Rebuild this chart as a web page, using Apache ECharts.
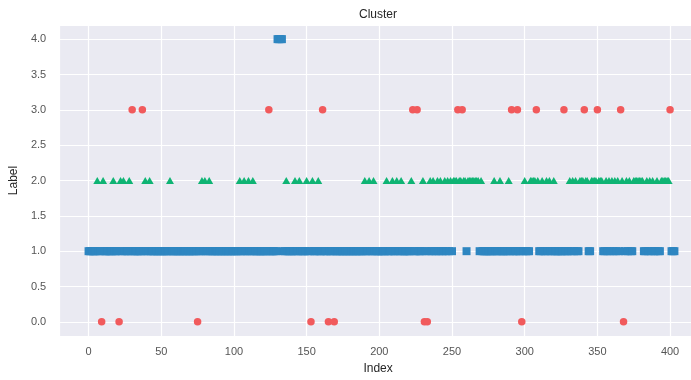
<!DOCTYPE html>
<html>
<head>
<meta charset="utf-8">
<script src="https://cdn.jsdelivr.net/npm/echarts@6/dist/echarts.min.js"></script>
<style>
  html, body { margin: 0; padding: 0; background: #ffffff; }
  #chart { width: 691px; height: 380px; }
</style>
</head>
<body>
<div id="chart"></div>
<script>
// Cluster label assigned to each row, listed by row index (0..403)
const clusterLabels = [
  1,1,1,1,1,1,2,1,1,0, 2,1,1,1,1,1,1,2,1,1,   // 0-19
  1,0,2,1,2,1,1,1,2,1, 3,1,1,1,1,1,1,3,1,2,   // 20-39
  1,1,2,1,1,1,1,1,1,1, 1,1,1,1,1,1,2,1,1,1,   // 40-59
  1,1,1,1,1,1,1,1,1,1, 1,1,1,1,1,0,1,1,2,1,   // 60-79
  2,1,1,2,1,1,1,1,1,1, 1,1,1,1,1,1,1,1,1,1,   // 80-99
  1,1,1,1,2,1,1,2,1,1, 2,1,1,2,1,1,1,1,1,1,   // 100-119
  1,1,1,1,3,1,1,1,1,1, 4,4,4,4,1,1,2,1,1,1,   // 120-139
  1,1,2,1,1,2,1,1,1,1, 2,1,1,0,2,1,1,1,2,1,   // 140-159
  1,3,1,1,1,0,1,1,1,0, 1,1,1,1,1,1,1,1,1,1,   // 160-179
  1,1,1,1,1,1,1,1,1,1, 2,1,1,2,1,1,2,1,1,1,   // 180-199
  1,1,1,1,1,2,1,1,1,2, 1,1,2,1,1,2,1,1,1,1,   // 200-219
  1,1,2,3,1,1,3,1,1,1, 2,0,1,0,1,2,1,2,1,1,   // 220-239
  2,1,2,1,1,2,1,2,1,2, 1,2,2,2,3,2,2,3,2,2,   // 240-259
  1,2,2,2,2,2,2,2,2,1, 2,1,1,1,1,1,1,1,1,2,   // 260-279
  1,1,1,2,1,1,1,1,1,2, 1,3,1,1,1,3,1,1,0,1,   // 280-299
  2,1,1,1,2,2,2,2,3,2, 1,1,2,1,1,2,1,2,1,1,   // 300-319
  2,1,1,1,1,1,1,3,1,1, 1,2,1,2,1,2,1,1,2,2,   // 320-339
  2,3,2,2,1,1,2,2,2,2, 3,2,2,2,1,1,2,1,2,1,   // 340-359
  2,1,2,1,2,1,3,2,0,1, 2,1,2,1,1,2,2,2,2,2,   // 360-379
  2,2,1,1,2,1,2,1,2,1, 1,2,1,1,2,2,2,2,2,2,   // 380-399
  3,1,1,1                                     // 400-403
];

// Tick labels of the y axis
const yTickValues = [0.0, 0.5, 1.0, 1.5, 2.0, 2.5, 3.0, 3.5, 4.0];

// Marker style per cluster label
const clusterStyles = [
  { label: 0, symbol: 'circle',   size: 7.5,    color: '#f15a5c' },
  { label: 1, symbol: 'rect',     size: 8,      color: '#2e86c1' },
  { label: 2, symbol: 'triangle', size: [8, 7], color: '#0fb474' },
  { label: 3, symbol: 'circle',   size: 7.5,    color: '#f15a5c' },
  { label: 4, symbol: 'rect',     size: 8,      color: '#2e86c1' }
];

const fontFamily = '"Liberation Sans", Arial, "DejaVu Sans", sans-serif';

const series = clusterStyles.map(function (s) {
  const pts = [];
  clusterLabels.forEach(function (lab, idx) {
    if (lab === s.label) pts.push([idx, lab]);
  });
  return {
    type: 'scatter',
    name: 'cluster ' + s.label,
    data: pts,
    symbol: s.symbol,
    symbolSize: s.size,
    itemStyle: { color: s.color, opacity: 1 },
    emphasis: { disabled: true },
    silent: true
  };
});

const chart = echarts.init(document.getElementById('chart'), null, { renderer: 'canvas' });
chart.setOption({
  animation: false,
  backgroundColor: '#ffffff',
  textStyle: { fontFamily: fontFamily },
  graphic: [{
    type: 'text',
    x: 378, y: 15,
    style: {
      text: 'Cluster', fill: '#262626', fontSize: 12,
      fontFamily: fontFamily, align: 'center', verticalAlign: 'middle'
    }
  }],
  grid: {
    left: 56, right: 0, top: 25, bottom: 40,
    show: true, backgroundColor: '#eaeaf2', borderWidth: 0
  },
  xAxis: {
    type: 'value',
    min: -20.2, max: 414.4, splitNumber: 9,
    name: 'Index', nameLocation: 'middle', nameGap: 27,
    nameTextStyle: {
      color: '#262626', fontSize: 12, fontFamily: fontFamily,
      padding: [0, 0, 0, 6]
    },
    axisLine: { show: false }, axisTick: { show: false },
    axisLabel: {
      color: '#555555', fontSize: 11, margin: 10,
      showMinLabel: false, showMaxLabel: false, fontFamily: fontFamily
    },
    splitLine: { show: true, lineStyle: { color: '#ffffff', width: 1.2 } }
  },
  yAxis: {
    type: 'value',
    min: -0.2, max: 4.2, splitNumber: 9,
    name: 'Label', nameLocation: 'middle', nameGap: 36,
    nameTextStyle: { color: '#262626', fontSize: 12, fontFamily: fontFamily },
    axisLine: { show: false }, axisTick: { show: false },
    axisLabel: {
      color: '#555555', fontSize: 11, margin: 13,
      showMinLabel: false, showMaxLabel: false, fontFamily: fontFamily,
      formatter: function (v) {
        return yTickValues.indexOf(Math.round(v * 10) / 10) >= 0 ? v.toFixed(1) : '';
      }
    },
    splitLine: { show: true, lineStyle: { color: '#ffffff', width: 1.2 } }
  },
  series: series
});
</script>
</body>
</html>
